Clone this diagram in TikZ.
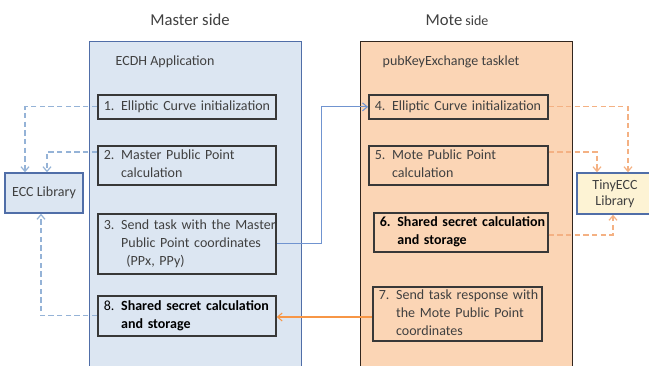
\documentclass[tikz,border=0pt]{standalone}
\usepackage{fontspec}
\setmainfont{Carlito}
\usepackage{tikz}
\usetikzlibrary{arrows.meta, positioning, calc}
\definecolor{masterfill}{RGB}{220,230,242}
\definecolor{masterdraw}{RGB}{80,110,168}
\definecolor{motefill}{RGB}{251,213,181}
\definecolor{motedraw}{RGB}{50,38,30}
\definecolor{tinyfill}{RGB}{253,243,212}
\definecolor{bluedash}{RGB}{149,179,215}
\definecolor{orangedash}{RGB}{244,177,131}
\definecolor{blueline}{RGB}{112,148,208}
\definecolor{orangeline}{RGB}{247,150,70}
\definecolor{txtgray}{RGB}{64,64,64}
\newcommand{\steptxt}[2]{\begin{tabular}{@{}l@{\hspace{5pt}}l@{}}#1&\begin{tabular}[t]{@{}l@{}}#2\end{tabular}\end{tabular}}
\tikzset{
    side_box/.style={
        rectangle, line width=1.1pt, anchor=north west, inner sep=0pt
    },
    step_box/.style={
        rectangle, draw=black!78, line width=1.3pt, anchor=north west,
        inner xsep=4.5pt, inner ysep=0pt, align=left, text=txtgray,
        font=\fontsize{10.5}{13.5}\selectfont
    },
    lib_box/.style={
        rectangle, draw=masterdraw, line width=1.1pt, align=center,
        inner sep=0pt, text=txtgray, font=\fontsize{10.5}{12}\selectfont
    },
    side_title/.style={
        font=\fontsize{12.5}{14}\selectfont, text=txtgray
    },
    app_title/.style={
        anchor=west, font=\fontsize{10.5}{12}\selectfont, text=txtgray
    },
    blue_dash/.style={
        -{Straight Barb[length=3.5pt, width=6pt]}, draw=bluedash, line width=0.9pt,
        dash pattern=on 4pt off 2.5pt
    },
    orange_dash/.style={
        -{Straight Barb[length=3.5pt, width=6pt]}, draw=orangedash, line width=0.9pt,
        dash pattern=on 4pt off 2.5pt
    },
    send_arrow/.style={
        -{Straight Barb[length=3.5pt, width=6pt]}, line width=0.8pt
    }
}
\begin{document}
\begin{tikzpicture}[x=0.75pt, y=-0.75pt]
\useasboundingbox (0,0) rectangle (649,365);
% the two sides
\node[side_box, draw=masterdraw, fill=masterfill, minimum width=159pt, minimum height=250pt] (master) at (89,41) {};
\node[side_box, draw=motedraw, fill=motefill, minimum width=159pt, minimum height=250pt] (mote) at (360,41) {};
\node[side_title] (mastertitle) at (190,20) {Master side};
\node[side_title] (motetitle) at (457,20) {Mote{\fontsize{10.5}{12}\selectfont\ side}};
\node[app_title] (ecdh) at (111,62) {ECDH Application};
\node[app_title] (tasklet) at (378,62) {pubKeyExchange tasklet};

% master steps
\node[step_box, text width=124.5pt, minimum height=18pt] (s1) at (97,94)
    {\steptxt{1.}{Elliptic Curve initialization}};
\node[step_box, text width=124.5pt, minimum height=29.25pt] (s2) at (97,145)
    {\steptxt{2.}{Master Public Point\\calculation}};
\node[step_box, text width=124.5pt, minimum height=45pt] (s3) at (97,213)
    {\steptxt{3.}{Send task with the Master\\Public Point coordinates\\\hspace{4pt}(PPx, PPy)}};
\node[step_box, text width=124.5pt, minimum height=30pt, text=black] (s8) at (97,295)
    {\steptxt{8.}{\textbf{Shared secret calculation}\\\textbf{and storage}}};

% mote steps
\node[step_box, text width=125.25pt, minimum height=18pt] (s4) at (368,94)
    {\steptxt{4.}{Elliptic Curve initialization}};
\node[step_box, text width=125.25pt, minimum height=29.25pt] (s5) at (368,145)
    {\steptxt{5.}{Mote Public Point\\calculation}};
\node[step_box, text width=121.5pt, minimum height=29.25pt, text=black] (s6) at (373,212)
    {\steptxt{\textbf{6.}}{\textbf{Shared secret calculation}\\\textbf{and storage}}};
\node[step_box, text width=117.75pt, minimum height=40.5pt] (s7) at (372,286)
    {\steptxt{7.}{Send task response with\\the Mote Public Point\\coordinates}};

% libraries
\node[lib_box, fill=masterfill, minimum width=58.5pt, minimum height=30pt] (ecc) at (44,193) {ECC Library};
\node[lib_box, fill=tinyfill, minimum width=57pt, minimum height=30.75pt] (tiny) at (615,193.5) {TinyECC\\Library};

% library calls
\draw[blue_dash] (s1.west) -| ($(ecc.north)+(-19,0)$);
\draw[blue_dash] (s2.west |- 0,152) -| ($(ecc.north)+(3,0)$);
\draw[blue_dash] (s8.west) -| ($(ecc.south)+(-3,0)$);
\draw[orange_dash] (s4.east) -| ($(tiny.north)+(13,0)$);
\draw[orange_dash] (s5.east |- 0,152) -| ($(tiny.north)+(-18,0)$);
\draw[orange_dash] (s6.east |- 0,235) -| ($(tiny.south)+(-2,0)$);

% exchange between the sides
\draw[send_arrow, draw=blueline] (s3.east) -- ++(45,0) |- (s4.west);
\draw[send_arrow, draw=orangeline] (s7.west |- 0,317) -- (s8.east |- 0,317);
\end{tikzpicture}
\end{document}
